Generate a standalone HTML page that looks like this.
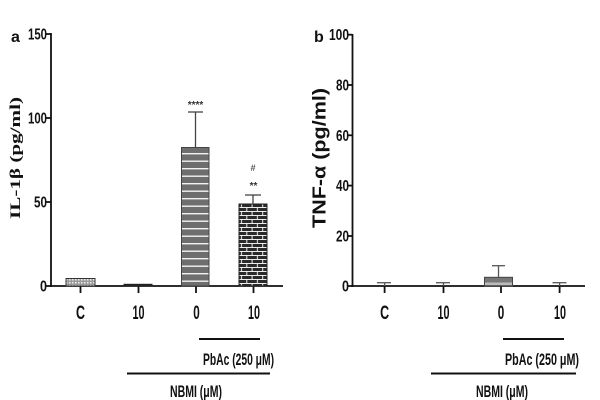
<!DOCTYPE html>
<html><head><meta charset="utf-8"><style>
html,body{margin:0;padding:0;background:#fff;}
svg{display:block;}
.s{font-family:"Liberation Sans",Arial,sans-serif;font-weight:bold;}
</style></head><body>
<svg width="600" height="400" viewBox="0 0 600 400" xmlns="http://www.w3.org/2000/svg" font-family="Liberation Sans" font-weight="bold" class="s">
<defs>
<pattern id="stripes" x="0" y="147.5" width="10" height="7.5" patternUnits="userSpaceOnUse">
<rect width="10" height="7.5" fill="#6e6e6e"/>
<rect y="5.5" width="10" height="1.4" fill="#f2f2f2"/>
</pattern>
<pattern id="brick" x="239" y="204" width="10.6" height="8" patternUnits="userSpaceOnUse">
<rect width="10.6" height="8" fill="#2a2a2a"/>
<rect y="3" width="10.6" height="1" fill="#eee"/>
<rect y="7" width="10.6" height="1" fill="#eee"/>
<rect x="2" y="0" width="1" height="3" fill="#eee"/>
<rect x="7.3" y="4" width="1" height="3" fill="#eee"/>
</pattern>
<pattern id="check" x="0" y="0" width="3" height="3" patternUnits="userSpaceOnUse">
<rect width="3" height="3" fill="#9a9a9a"/>
<rect width="1.5" height="1.5" fill="#eee"/>
</pattern>
</defs>

<!-- Panel a -->
<text class="s" x="11" y="42" font-size="16" fill="#111">a</text>
<g stroke="#111" stroke-width="1.8" fill="none">
<line x1="51" y1="33" x2="51" y2="287"/>
<line x1="50" y1="286" x2="283" y2="286"/>
<line x1="46" y1="34" x2="51" y2="34"/>
<line x1="46" y1="118" x2="51" y2="118"/>
<line x1="46" y1="202" x2="51" y2="202"/>
<line x1="46" y1="286" x2="51" y2="286"/>
<line x1="80.5" y1="286" x2="80.5" y2="293"/>
<line x1="138.5" y1="286" x2="138.5" y2="293"/>
<line x1="196" y1="286" x2="196" y2="293"/>
<line x1="253.5" y1="286" x2="253.5" y2="293"/>
</g>
<g class="s" font-size="15.5" text-anchor="end" fill="#111">
<text x="47" y="39.5" textLength="19" lengthAdjust="spacingAndGlyphs">150</text>
<text x="47" y="123.5" textLength="19" lengthAdjust="spacingAndGlyphs">100</text>
<text x="47" y="207.5" textLength="13" lengthAdjust="spacingAndGlyphs">50</text>
<text x="47" y="291.5" textLength="7" lengthAdjust="spacingAndGlyphs">0</text>
</g>
<text transform="translate(20,158) rotate(-90)" text-anchor="middle" font-size="15" font-weight="bold" fill="#111" font-family="Liberation Serif" style="font-family:'Liberation Serif',serif;font-weight:bold;" textLength="122" lengthAdjust="spacingAndGlyphs">IL-1β (pg/ml)</text>

<!-- bars a -->
<rect x="66" y="278.5" width="29" height="7.5" fill="url(#check)" stroke="#333" stroke-width="1"/>
<rect x="124" y="284.3" width="28" height="1.7" fill="#222" stroke="#222" stroke-width="1"/>
<rect x="181.5" y="147.5" width="27.5" height="138.5" fill="url(#stripes)" stroke="#444" stroke-width="1"/>
<rect x="239" y="204" width="28" height="82" fill="url(#brick)" stroke="#222" stroke-width="1"/>
<g stroke="#444" stroke-width="1.3">
<line x1="195.5" y1="147.5" x2="195.5" y2="112"/>
<line x1="188" y1="112" x2="203" y2="112"/>
<line x1="253" y1="204" x2="253" y2="195"/>
<line x1="245" y1="195" x2="261" y2="195"/>
</g>
<text class="s" x="195.5" y="108" font-size="10" text-anchor="middle" fill="#333">****</text>
<text class="s" x="253.5" y="189" font-size="10" text-anchor="middle" fill="#333">**</text>
<text class="s" x="253" y="171" font-size="9" text-anchor="middle" fill="#555">#</text>

<g class="s" font-size="19" text-anchor="middle" fill="#111">
<text x="80.5" y="319" textLength="9" lengthAdjust="spacingAndGlyphs">C</text>
<text x="138.5" y="319" textLength="12" lengthAdjust="spacingAndGlyphs">10</text>
<text x="196.5" y="319" textLength="6.5" lengthAdjust="spacingAndGlyphs">0</text>
<text x="254" y="319" textLength="12" lengthAdjust="spacingAndGlyphs">10</text>
</g>
<g stroke="#111" stroke-width="2">
<line x1="199" y1="339" x2="260" y2="339"/>
<line x1="127" y1="373.5" x2="270" y2="373.5"/>
<line x1="503" y1="339" x2="564" y2="339"/>
<line x1="431" y1="373.5" x2="576" y2="373.5"/>
</g>
<g class="s" font-size="17" fill="#111">
<text x="203" y="365" textLength="71" lengthAdjust="spacingAndGlyphs">PbAc (250 μM)</text>
<text x="170" y="397" textLength="52" lengthAdjust="spacingAndGlyphs">NBMI (μM)</text>
<text x="505" y="365" textLength="74" lengthAdjust="spacingAndGlyphs">PbAc (250 μM)</text>
<text x="476" y="397" textLength="52" lengthAdjust="spacingAndGlyphs">NBMI (μM)</text>
</g>

<!-- Panel b -->
<text class="s" x="314" y="42" font-size="16" fill="#111">b</text>
<g stroke="#111" stroke-width="1.8" fill="none">
<line x1="352.5" y1="34" x2="352.5" y2="287"/>
<line x1="351" y1="286" x2="585" y2="286"/>
<line x1="348" y1="34.7" x2="352.5" y2="34.7"/>
<line x1="348" y1="85" x2="352.5" y2="85"/>
<line x1="348" y1="135.3" x2="352.5" y2="135.3"/>
<line x1="348" y1="185.6" x2="352.5" y2="185.6"/>
<line x1="348" y1="236" x2="352.5" y2="236"/>
<line x1="348" y1="286" x2="352.5" y2="286"/>
<line x1="384.6" y1="286" x2="384.6" y2="293"/>
<line x1="443.5" y1="286" x2="443.5" y2="293"/>
<line x1="501" y1="286" x2="501" y2="293"/>
<line x1="559.6" y1="286" x2="559.6" y2="293"/>
</g>
<g class="s" font-size="15.5" text-anchor="end" fill="#111">
<text x="349" y="40" textLength="20" lengthAdjust="spacingAndGlyphs">100</text>
<text x="349" y="90.5" textLength="13" lengthAdjust="spacingAndGlyphs">80</text>
<text x="349" y="141" textLength="13" lengthAdjust="spacingAndGlyphs">60</text>
<text x="349" y="191" textLength="13" lengthAdjust="spacingAndGlyphs">40</text>
<text x="349" y="241.5" textLength="13" lengthAdjust="spacingAndGlyphs">20</text>
<text x="349" y="291.5" textLength="7" lengthAdjust="spacingAndGlyphs">0</text>
</g>
<text class="s" transform="translate(325.5,158) rotate(-90)" text-anchor="middle" font-size="18" fill="#111" textLength="140" lengthAdjust="spacingAndGlyphs">TNF-α (pg/ml)</text>

<rect x="484.5" y="277.3" width="28" height="8.7" fill="#777" stroke="#444" stroke-width="1"/>
<rect x="485" y="282.5" width="27" height="2.5" fill="#bbb"/>
<g stroke="#555" stroke-width="1.3">
<line x1="384.6" y1="286" x2="384.6" y2="282.7"/>
<line x1="377" y1="282.7" x2="391" y2="282.7"/>
<line x1="443.5" y1="286" x2="443.5" y2="282.7"/>
<line x1="436" y1="282.7" x2="450" y2="282.7"/>
<line x1="498.5" y1="277.3" x2="498.5" y2="265.7"/>
<line x1="492" y1="265.7" x2="505" y2="265.7"/>
<line x1="559.6" y1="286" x2="559.6" y2="282.7"/>
<line x1="552.5" y1="282.7" x2="566.5" y2="282.7"/>
</g>
<g class="s" font-size="19" text-anchor="middle" fill="#111">
<text x="384.6" y="319" textLength="9" lengthAdjust="spacingAndGlyphs">C</text>
<text x="443.5" y="319" textLength="12" lengthAdjust="spacingAndGlyphs">10</text>
<text x="501" y="319" textLength="6.5" lengthAdjust="spacingAndGlyphs">0</text>
<text x="560" y="319" textLength="12" lengthAdjust="spacingAndGlyphs">10</text>
</g>
</svg>
</body></html>
